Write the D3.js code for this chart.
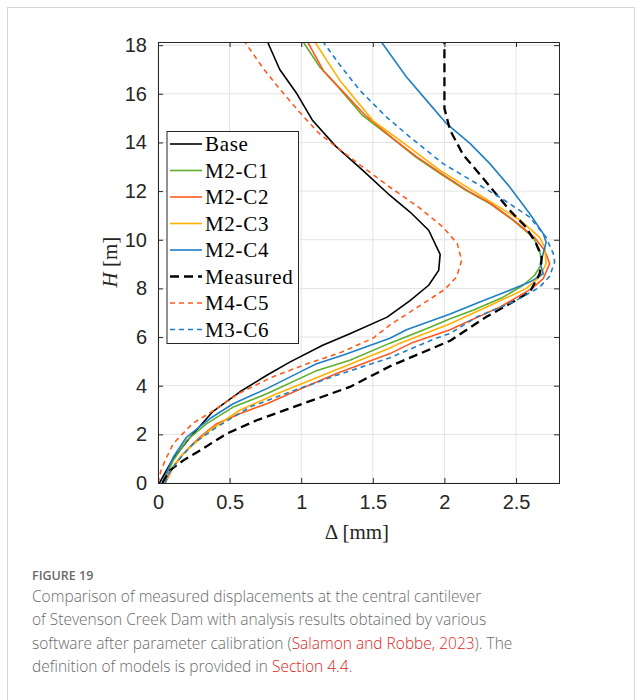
<!DOCTYPE html>
<html>
<head>
<meta charset="utf-8">
<script src="https://cdn.jsdelivr.net/npm/d3@7"></script>
<style>
  body { margin: 0; background: #fff; }
  svg { display: block; }
</style>
</head>
<body>
<div id="chart"></div>
<script>
// Data: each series is a list of [delta (mm), H (m)]
var seriesNames = ["Base", "M2-C1", "M2-C2", "M2-C3", "M2-C4", "Measured", "M4-C5", "M3-C6"];

var base = [[0.01, 0], [0.1, 0.95], [0.22, 1.85], [0.38, 2.92], [0.57, 3.74], [0.76, 4.43], [0.92, 4.97],
  [1.15, 5.66], [1.34, 6.14], [1.6, 6.82], [1.76, 7.5], [1.89, 8.13], [1.96, 8.74], [1.97, 9.4], [1.89, 10.39],
  [1.76, 11.14], [1.62, 11.82], [1.43, 12.85], [1.24, 13.85], [1.08, 14.9], [0.97, 16.0], [0.85, 17.0], [0.765, 18.13]];

var m2c1 = [[0.03, 0], [0.107, 0.93], [0.2, 1.75], [0.34, 2.44], [0.525, 3.12], [0.76, 3.67], [1.1, 4.6],
  [1.34, 5.05], [1.62, 5.75], [1.9, 6.4], [2.04, 6.75], [2.2, 7.1], [2.41, 7.64], [2.55, 8.13], [2.63, 8.54],
  [2.68, 9.02], [2.665, 9.56], [2.62, 10.1], [2.48, 10.8], [2.32, 11.48], [2.15, 12.03], [1.97, 12.72],
  [1.8, 13.4], [1.63, 14.2], [1.43, 15.1], [1.27, 16.2], [1.13, 17.1], [1.014, 18.13]];

var m2c2 = [[0.05, 0], [0.107, 0.66], [0.177, 1.21], [0.293, 1.89], [0.41, 2.44], [0.57, 2.85], [0.76, 3.26],
  [0.99, 3.85], [1.247, 4.5], [1.62, 5.32], [1.78, 5.78], [2.04, 6.3], [2.13, 6.55], [2.386, 7.23], [2.61, 7.99],
  [2.69, 8.4], [2.735, 9.02], [2.7, 9.56], [2.625, 10.12], [2.48, 10.82], [2.32, 11.5], [2.15, 12.06],
  [1.97, 12.76], [1.8, 13.44], [1.64, 14.17], [1.45, 15.1], [1.29, 16.1], [1.154, 16.96], [1.045, 18.13]];

var m2c3 = [[0.05, 0], [0.084, 0.52], [0.154, 1.07], [0.2, 1.34], [0.363, 2.17], [0.57, 2.99], [0.83, 3.67],
  [1.107, 4.33], [1.62, 5.55], [1.69, 5.75], [2.04, 6.55], [2.317, 7.3], [2.57, 7.99], [2.665, 8.47],
  [2.71, 9.02], [2.7, 9.7], [2.665, 10.1], [2.53, 10.8], [2.27, 11.75], [1.97, 12.85], [1.69, 14.09],
  [1.5, 14.9], [1.27, 16.55], [1.2, 17.18], [1.096, 18.13]];

var m2c4 = [[0.03, 0], [0.107, 1.07], [0.2, 1.89], [0.363, 2.65], [0.525, 3.26], [0.76, 3.88], [1.014, 4.63],
  [1.107, 4.9], [1.29, 5.25], [1.62, 5.95], [1.735, 6.3], [2.04, 6.95], [2.247, 7.44], [2.456, 7.92],
  [2.596, 8.26], [2.69, 8.6], [2.67, 9.0], [2.71, 9.9], [2.69, 10.25], [2.596, 11.07], [2.456, 12.17],
  [2.317, 13.13], [2.18, 13.95], [2.015, 14.77], [1.875, 15.73], [1.735, 16.69], [1.56, 18.13]];

var measured = [[0.03, 0], [0.084, 0.52], [0.177, 0.93], [0.293, 1.34], [0.48, 2.03], [0.69, 2.58],
  [0.944, 3.12], [1.34, 3.95], [1.62, 4.8], [2.04, 5.85], [2.29, 6.82], [2.456, 7.37], [2.596, 7.85],
  [2.665, 8.6], [2.68, 9.29], [2.64, 9.84], [2.57, 10.52], [2.456, 11.21], [2.34, 12.03], [2.224, 12.85],
  [2.13, 13.5], [2.04, 14.5], [2.0, 15.4], [2.0, 18.13]];

var m4c5 = [[0.0, 0], [0.02, 0.5], [0.05, 0.93], [0.107, 1.62], [0.24, 2.44], [0.38, 2.95], [0.57, 3.7],
  [0.8, 4.36], [1.04, 4.9], [1.27, 5.35], [1.5, 5.95], [1.62, 6.5], [1.85, 7.37], [2.0, 7.95], [2.085, 8.47],
  [2.12, 9.15], [2.09, 9.84], [1.99, 10.52], [1.82, 11.34], [1.61, 12.2], [1.43, 12.99], [1.27, 13.7],
  [1.12, 14.4], [0.98, 15.3], [0.85, 16.2], [0.735, 17.04], [0.607, 18.13]];

var m3c6 = [[0.05, 0], [0.072, 0.38], [0.142, 0.93], [0.246, 1.62], [0.41, 2.3], [0.64, 3.12], [0.92, 3.74],
  [1.247, 4.43], [1.62, 5.15], [1.92, 5.9], [2.04, 6.15], [2.224, 6.82], [2.48, 7.44], [2.665, 8.05],
  [2.735, 8.5], [2.77, 9.1], [2.76, 9.43], [2.71, 10.1], [2.596, 10.93], [2.386, 11.75], [1.99, 13.13],
  [1.76, 14.22], [1.596, 15.04], [1.41, 16.14], [1.27, 17.18], [1.154, 18.13]];

var xTicks = [0, 0.5, 1, 1.5, 2, 2.5];
var yTicks = [0, 2, 4, 6, 8, 10, 12, 14, 16, 18];

// styling for each series, same order as seriesNames
var seriesData = [base, m2c1, m2c2, m2c3, m2c4, measured, m4c5, m3c6];
var colors = ["#000000", "#5fae2e", "#ff5a1f", "#ffb000", "#1f7fc6", "#000000", "#ff5a1f", "#1f7fc6"];
var dashes = [null, null, null, null, null, "9,5", "5,4", "5,4"];
var widths = [1.6, 1.6, 1.6, 1.6, 1.6, 2.3, 1.6, 1.6];

// Define chart size and margins
var svgWidth = 642;
var svgHeight = 700;

var margin = { top: 42, left: 158, right: 83, bottom: 217 };
var width = svgWidth - margin.left - margin.right;
var height = svgHeight - margin.top - margin.bottom;

var svg = d3.select("#chart")
  .append("svg")
  .attr("width", svgWidth)
  .attr("height", svgHeight);

// light frame around the figure
svg.append("rect")
  .attr("x", 7.5)
  .attr("y", 7.5)
  .attr("width", 627)
  .attr("height", 720)
  .attr("fill", "none")
  .attr("stroke", "#d6d6d6")
  .attr("stroke-width", 1);

var chartGroup = svg.append("g")
  .attr("transform", `translate(${margin.left}, ${margin.top})`);

var xScale = d3.scaleLinear().domain([0, 2.8]).range([0, width]);
var yScale = d3.scaleLinear().domain([0, 18.13]).range([height, 0]);

// grid
chartGroup.append("g")
  .selectAll("line.vgrid")
  .data(xTicks)
  .enter()
  .append("line")
  .attr("x1", d => xScale(d))
  .attr("x2", d => xScale(d))
  .attr("y1", 0)
  .attr("y2", height)
  .attr("stroke", "#e3e3e3")
  .attr("stroke-width", 1);

chartGroup.append("g")
  .selectAll("line.hgrid")
  .data(yTicks)
  .enter()
  .append("line")
  .attr("x1", 0)
  .attr("x2", width)
  .attr("y1", d => yScale(d))
  .attr("y2", d => yScale(d))
  .attr("stroke", "#e3e3e3")
  .attr("stroke-width", 1);

// clip for the curves
svg.append("defs").append("clipPath")
  .attr("id", "plotClip")
  .append("rect")
  .attr("width", width)
  .attr("height", height);

var line = d3.line()
  .x(d => xScale(d[0]))
  .y(d => yScale(d[1]));

var curves = chartGroup.append("g").attr("clip-path", "url(#plotClip)");

// draw in an order so the solid model curves sit over the dashed ones
var drawOrder = [0, 1, 2, 3, 4, 5, 6, 7];
drawOrder.forEach(function (i) {
  curves.append("path")
    .datum(seriesData[i])
    .attr("d", line)
    .attr("fill", "none")
    .attr("stroke", colors[i])
    .attr("stroke-width", widths[i])
    .attr("stroke-dasharray", dashes[i])
    .attr("stroke-linejoin", "round");
});

// axes: ticks inside, on all four sides
var tickFont = "'Liberation Sans', Arial, sans-serif";
var axisColor = "#262626";

var bottomAxis = d3.axisBottom(xScale).tickValues(xTicks).tickSize(-5).tickPadding(12)
  .tickFormat(d3.format("~g"));
var leftAxis = d3.axisLeft(yScale).tickValues(yTicks).tickSize(-5).tickPadding(11);
var topAxis = d3.axisTop(xScale).tickValues(xTicks).tickSize(-5).tickFormat("");
var rightAxis = d3.axisRight(yScale).tickValues(yTicks).tickSize(-5).tickFormat("");

var xAxisG = chartGroup.append("g")
  .attr("transform", `translate(0, ${height})`)
  .call(bottomAxis);
var yAxisG = chartGroup.append("g").call(leftAxis);
var topG = chartGroup.append("g").call(topAxis);
var rightG = chartGroup.append("g")
  .attr("transform", `translate(${width}, 0)`)
  .call(rightAxis);

[xAxisG, yAxisG, topG, rightG].forEach(function (g) {
  g.select(".domain").attr("stroke", axisColor).attr("stroke-width", 1);
  g.selectAll(".tick line").attr("stroke", axisColor).attr("stroke-width", 1);
  g.selectAll("text")
    .attr("fill", axisColor)
    .style("font-family", tickFont)
    .style("font-size", "20px");
});

// legend
var legendFont = "'Liberation Serif', 'Times New Roman', serif";
var legend = chartGroup.append("g")
  .attr("transform", `translate(${166.5 - margin.left}, ${131 - margin.top})`);

legend.append("rect")
  .attr("x", 0.5)
  .attr("y", 0.5)
  .attr("width", 131.5)
  .attr("height", 212)
  .attr("fill", "#fff")
  .attr("stroke", axisColor)
  .attr("stroke-width", 1);

var legendRows = legend.selectAll("g.row")
  .data(seriesNames)
  .enter()
  .append("g")
  .attr("class", "row")
  .attr("transform", (d, i) => `translate(0, ${13 + i * 26.5})`);

legendRows.append("line")
  .attr("x1", 3.5)
  .attr("x2", 35.5)
  .attr("y1", 0)
  .attr("y2", 0)
  .attr("stroke", (d, i) => colors[i])
  .attr("stroke-width", (d, i) => widths[i])
  .attr("stroke-dasharray", (d, i) => dashes[i]);

legendRows.append("text")
  .attr("x", 38.5)
  .attr("y", 7)
  .attr("fill", "#000")
  .style("font-family", legendFont)
  .style("font-size", "21px")
  .style("letter-spacing", "0.7px")
  .text(d => d);

// axis labels
var yLabel = svg.append("text")
  .attr("transform", "translate(117, 262) rotate(-90)")
  .attr("text-anchor", "middle")
  .attr("fill", axisColor)
  .style("font-family", legendFont)
  .style("font-size", "21px");
yLabel.append("tspan").style("font-style", "italic").text("H");
yLabel.append("tspan").text(" [m]");

svg.append("text")
  .attr("x", 357)
  .attr("y", 539)
  .attr("text-anchor", "middle")
  .attr("fill", axisColor)
  .style("font-family", legendFont)
  .style("font-size", "21px")
  .text("\u0394 [mm]");

// caption
var capFont = "'Open Sans', 'Noto Sans', sans-serif";
svg.append("text")
  .attr("x", 32)
  .attr("y", 580)
  .attr("fill", "#6a6a6a")
  .style("font-family", capFont)
  .style("font-size", "12.5px")
  .style("font-weight", 600)
  .text("FIGURE 19");

var captionLines = [
  [["Comparison of measured displacements at the central cantilever", false]],
  [["of Stevenson Creek Dam with analysis results obtained by various", false]],
  [["software after parameter calibration (", false], ["Salamon and Robbe, 2023", true], ["). The", false]],
  [["definition of models is provided in ", false], ["Section 4.4", true], [".", false]]
];

captionLines.forEach(function (parts, i) {
  var t = svg.append("text")
    .attr("x", 32)
    .attr("y", 601.5 + i * 23.5)
    .attr("fill", "#6a6a6a")
    .style("font-family", capFont)
    .style("font-size", "15.5px")
    .style("font-weight", 300);
  parts.forEach(function (p) {
    t.append("tspan")
      .attr("fill", p[1] ? "#e0251b" : "#6a6a6a")
      .text(p[0]);
  });
});
</script>
</body>
</html>
